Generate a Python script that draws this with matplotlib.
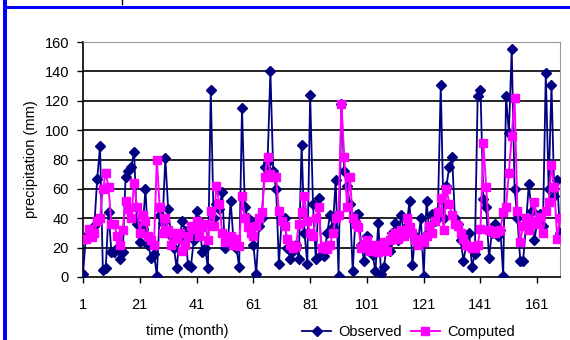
import matplotlib
matplotlib.use("Agg")
import matplotlib.pyplot as plt
from matplotlib.patches import Rectangle
from matplotlib.lines import Line2D

# monthly precipitation (mm), months 1..169
observed = [2, 27, 30, 28, 35, 67, 89, 5, 6, 44,
            17, 17, 20, 12, 17, 68, 72, 75, 85, 36,
            24, 33, 60, 22, 13, 16, 1, 42, 37, 81,
            46, 28, 20, 6, 27, 38, 31, 8, 7, 25,
            45, 38, 17, 20, 6, 127, 40, 50, 46, 58,
            20, 23, 52, 25, 20, 7, 115, 48, 40, 38,
            22, 2, 35, 40, 75, 78, 140, 72, 60, 9,
            40, 40, 20, 12, 18, 22, 12, 90, 30, 9,
            124, 50, 12, 54, 16, 14, 30, 42, 34, 66,
            1, 118, 72, 62, 50, 4, 42, 43, 22, 11,
            28, 20, 15, 4, 37, 2, 7, 22, 18, 30,
            37, 25, 42, 30, 35, 52, 8, 28, 24, 40,
            1, 52, 30, 43, 38, 45, 131, 40, 62, 75,
            82, 40, 36, 25, 11, 22, 30, 7, 16, 123,
            127, 53, 48, 13, 30, 36, 28, 32, 1, 123,
            98, 155, 60, 40, 11, 11, 35, 63, 45, 25,
            38, 43, 35, 139, 60, 131, 55, 66, 30]

computed = [26, 26, 33, 27, 30, 38, 40, 60, 71, 61,
            36, 36, 28, 22, 32, 52, 46, 40, 64, 48,
            30, 42, 38, 28, 25, 22, 80, 48, 30, 40,
            32, 22, 30, 26, 30, 18, 22, 28, 35, 33,
            38, 28, 34, 36, 25, 45, 35, 62, 50, 30,
            24, 25, 28, 22, 26, 21, 55, 40, 34, 30,
            28, 35, 40, 44, 68, 82, 70, 68, 68, 45,
            38, 35, 26, 22, 20, 21, 36, 44, 55, 38,
            30, 28, 40, 48, 20, 21, 19, 22, 30, 40,
            42, 118, 82, 48, 68, 40, 36, 34, 20, 22,
            25, 18, 22, 20, 17, 22, 24, 18, 25, 28,
            30, 26, 32, 28, 40, 34, 30, 25, 22, 26,
            24, 28, 35, 30, 38, 44, 54, 32, 60, 50,
            42, 36, 35, 30, 26, 22, 21, 20, 20, 22,
            33, 91, 61, 32, 31, 30, 31, 32, 44, 48,
            71, 96, 122, 45, 24, 35, 40, 32, 38, 51,
            36, 41, 30, 45, 51, 76, 61, 26, 40]

months = list(range(1, len(observed) + 1))
x_ticks = [1, 21, 41, 61, 81, 101, 121, 141, 161]
y_ticks = [0, 20, 40, 60, 80, 100, 120, 140, 160]

plt.rcParams['font.family'] = ['Liberation Sans', 'DejaVu Sans']
fs = 10.5

fig = plt.figure(figsize=(5.7, 3.4), dpi=100)
W, H = 570, 340
ax = fig.add_axes([83 / W, 1 - 277 / H, (560 - 83) / W, (277 - 42) / H])

# series
ax.plot(months, observed, color='#000080', lw=1.3, marker='D', ms=5,
        label='Observed', zorder=3)
ax.plot(months, computed, color='#FF00FF', lw=1.4, marker='s', ms=5.5,
        label='Computed', zorder=4)

ax.set_xlim(1, 169)
ax.set_ylim(0, 160)
ax.set_xticks(x_ticks)
ax.set_yticks(y_ticks)
ax.tick_params(axis='x', length=4, width=1, pad=11, labelsize=fs)
ax.tick_params(axis='y', length=4, width=1, pad=6, labelsize=fs)

# gridlines
for v in y_ticks[1:-1]:
    ax.axhline(v, color='black', lw=1.2, zorder=1)

ax.spines['left'].set_color('black')
ax.spines['bottom'].set_color('black')
ax.spines['left'].set_linewidth(1.2)
ax.spines['bottom'].set_linewidth(1.2)
ax.spines['top'].set_color('#999999')
ax.spines['right'].set_color('#999999')

ax.set_ylabel('precipitation (mm)', fontsize=fs, labelpad=5)
fig.text(187 / W, 1 - 331 / H, 'time (month)', ha='center', va='center',
         fontsize=fs)

handles, labels = ax.get_legend_handles_labels()
fig.legend(handles, labels, loc='center left', ncol=2, frameon=False,
           bbox_to_anchor=(302 / W, 1 - 332 / H), fontsize=fs,
           handlelength=2.0, handletextpad=0.5, columnspacing=0.6,
           borderaxespad=0, borderpad=0)

# blue frame from the page
fig.add_artist(Rectangle((3 / W, 0), 4 / W, 1, transform=fig.transFigure,
                         color='#0000FF', lw=0))
fig.add_artist(Rectangle((3 / W, 1 - 9 / H), 567 / W, 3 / H,
                         transform=fig.transFigure, color='#0000FF', lw=0))
fig.add_artist(Line2D([122 / W, 122 / W], [1 - 4 / H, 1], color='black',
                      lw=1, transform=fig.transFigure))

fig.savefig('out.png', dpi=100)
